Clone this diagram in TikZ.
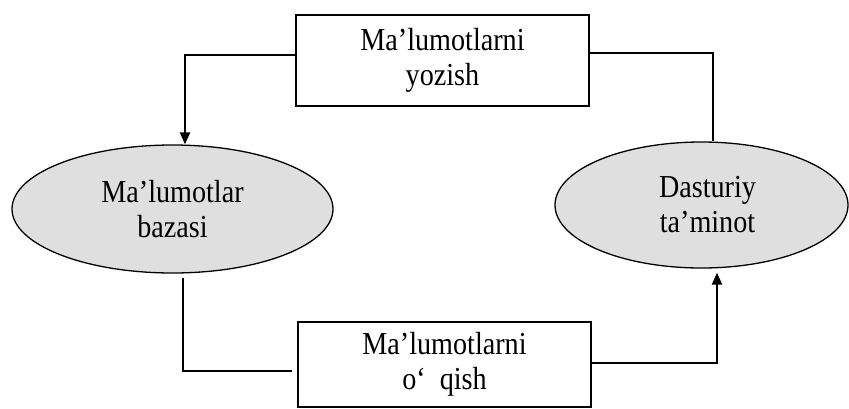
\documentclass[tikz,border=0pt]{standalone}
\usepackage{fontspec}
\setmainfont{Liberation Serif}
\newfontfamily\labelfont{Liberation Serif}[FakeStretch=0.88]
\usetikzlibrary{arrows.meta,shapes.geometric}
\begin{document}
\begin{tikzpicture}[x=1pt,y=-1pt,
  every node/.style={font=\labelfont\fontsize{32}{35}\selectfont, align=center, inner sep=0pt},
  taskbox/.style={draw, line width=1.4pt, rectangle},
  store/.style={draw, line width=1.3pt, ellipse, fill=gray!25},
  link/.style={line width=1.2pt},
  flow/.style={line width=2.2pt, -{Triangle[length=12pt,width=10pt]}}]
  \useasboundingbox (0,0) rectangle (849,408);

  % processes
  \node[taskbox, minimum width=293pt, minimum height=91pt] (write) at (442.5,60.5)
    {Ma’lumotlarni\\yozish};
  \node[taskbox, minimum width=293pt, minimum height=85pt] (read) at (444.5,364.5)
    {Ma’lumotlarni\\o‘\ \ qish};

  % database and software
  \node[store, minimum width=321pt, minimum height=128pt] (dbase) at (172.5,209)
    {Ma’lumotlar\\bazasi};
  \node[store, minimum width=293pt, minimum height=126pt] (soft) at (701.5,205)
    {\hspace*{12pt}Dasturiy\\\hspace*{12pt}ta’minot};

  % connectors
  \draw[flow] ([yshift=5.5pt]write.west) -| ([xshift=12.5pt]dbase.north);
  \draw[link] ([yshift=7.5pt]write.east) -| ([xshift=11.5pt]soft.north);
  \draw[link] ([xshift=10.5pt,yshift=-4pt]dbase.south) |- ([xshift=-5pt,yshift=-6.5pt]read.west);
  \draw[flow] ([yshift=1.5pt]read.east) -| ([xshift=15.5pt,yshift=-4pt]soft.south);
\end{tikzpicture}
\end{document}
